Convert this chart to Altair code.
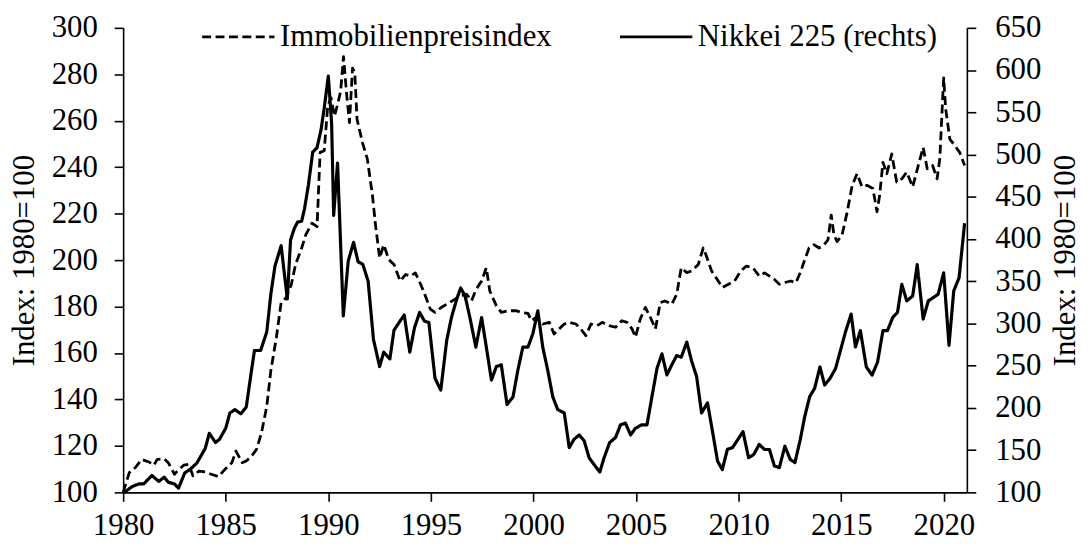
import altair as alt
import pandas as pd

S_PROP = "Immobilienpreisindex"
S_NIK = "Nikkei 225 (rechts)"

prop_year = [1980.0, 1980.3, 1980.6, 1980.9, 1981.26, 1981.5, 1981.66, 1982.0, 1982.2, 1982.5,
             1982.7, 1982.95, 1983.2, 1983.4, 1983.7, 1984.0, 1984.3, 1984.65, 1984.97, 1985.3,
             1985.5, 1985.8, 1986.0, 1986.26, 1986.5, 1986.74, 1987.0, 1987.2, 1987.47, 1987.7,
             1987.95, 1988.2, 1988.4, 1988.7, 1988.9, 1989.2, 1989.45, 1989.6, 1989.8, 1989.97,
             1990.13, 1990.3, 1990.45, 1990.6, 1990.74, 1990.9, 1991.03, 1991.18, 1991.29, 1991.4,
             1991.66, 1991.9, 1992.15, 1992.3, 1992.5, 1992.7, 1992.95, 1993.2, 1993.5, 1993.76,
             1994.0, 1994.24, 1994.5, 1994.7, 1994.97, 1995.2, 1995.5, 1995.9, 1996.4, 1996.74,
             1996.98, 1997.2, 1997.47, 1997.7, 1997.87, 1998.19, 1998.43, 1998.76, 1999.16, 1999.4,
             1999.73, 1999.9, 2000.13, 2000.45, 2000.77, 2001.0, 2001.26, 2001.5, 2001.74, 2002.06,
             2002.3, 2002.55, 2002.8, 2003.1, 2003.35, 2003.68, 2004.0, 2004.3, 2004.56, 2004.8,
             2004.97, 2005.2, 2005.45, 2005.7, 2005.94, 2006.18, 2006.4, 2006.74, 2006.98, 2007.2,
             2007.47, 2007.7, 2008.03, 2008.27, 2008.4, 2008.68, 2008.9, 2009.2, 2009.5, 2009.8,
             2010.1, 2010.37, 2010.7, 2011.0, 2011.26, 2011.5, 2011.74, 2011.98, 2012.22, 2012.54,
             2012.79, 2013.03, 2013.19, 2013.43, 2013.67, 2013.92, 2014.16, 2014.35, 2014.51, 2014.64,
             2014.8, 2015.04, 2015.29, 2015.53, 2015.77, 2016.01, 2016.25, 2016.54, 2016.74, 2016.87,
             2017.03, 2017.22, 2017.46, 2017.7, 2017.95, 2018.19, 2018.48, 2018.75, 2018.99, 2019.19,
             2019.45, 2019.67, 2019.8, 2019.99, 2020.09, 2020.29, 2020.53, 2020.77, 2021.01]
prop_value = [100.0, 108.5, 110.7, 114.2, 113.1, 111.7, 114.2, 114.5, 112.8, 107.8,
              109.7, 111.7, 112.1, 107.1, 109.2, 108.8, 107.8, 106.8, 110.0, 112.8,
              117.8, 112.8, 113.5, 115.6, 118.5, 125.6, 137.0, 152.6, 166.8, 181.7,
              183.9, 189.6, 198.1, 205.2, 210.9, 215.9, 214.4, 246.4, 247.1, 266.3,
              269.9, 262.0, 267.0, 272.7, 287.6, 270.6, 259.2, 282.7, 280.5, 260.6,
              250.7, 243.6, 227.9, 215.1, 200.9, 206.6, 200.2, 198.1, 191.0, 193.8,
              193.1, 194.5, 189.6, 185.3, 178.9, 177.5, 179.6, 181.7, 184.4, 185.3,
              182.5, 187.4, 191.0, 196.7, 186.7, 180.3, 177.5, 178.2, 178.2, 177.5,
              177.1, 173.9, 175.3, 172.5, 173.2, 168.2, 170.4, 172.5, 173.2, 172.5,
              170.4, 167.5, 172.5, 171.8, 173.2, 171.8, 171.1, 173.9, 173.2, 170.4,
              166.8, 174.6, 179.6, 175.3, 170.4, 181.7, 182.4, 181.0, 185.3, 196.7,
              194.6, 195.3, 198.1, 205.2, 202.4, 195.3, 192.4, 188.2, 189.6, 191.0,
              195.3, 197.4, 196.7, 193.1, 194.5, 193.1, 191.7, 189.6, 190.3, 191.0,
              190.3, 195.2, 199.5, 205.2, 206.6, 205.2, 206.6, 208.7, 219.4, 210.9,
              208.0, 210.9, 220.8, 232.2, 237.2, 231.5, 232.2, 230.8, 220.8, 227.9,
              242.1, 237.2, 245.7, 233.6, 235.0, 237.9, 231.5, 240.7, 248.5, 239.3,
              240.7, 235.0, 243.6, 278.4, 264.9, 252.1, 249.3, 246.4, 240.7]

nikkei_year = [1980.05, 1980.45, 1980.77, 1981.0, 1981.4, 1981.74, 1982.0, 1982.2, 1982.5, 1982.7,
               1983.0, 1983.3, 1983.6, 1984.0, 1984.2, 1984.5, 1984.7, 1985.0, 1985.2, 1985.45,
               1985.74, 1986.0, 1986.26, 1986.4, 1986.7, 1987.0, 1987.2, 1987.4, 1987.7, 1988.0,
               1988.16, 1988.35, 1988.5, 1988.7, 1988.84, 1989.03, 1989.24, 1989.45, 1989.65, 1989.8,
               1990.0, 1990.16, 1990.26, 1990.45, 1990.73, 1990.97, 1991.23, 1991.45, 1991.68, 1991.94,
               1992.2, 1992.5, 1992.7, 1993.0, 1993.2, 1993.5, 1993.7, 1993.97, 1994.2, 1994.45,
               1994.68, 1994.9, 1995.2, 1995.48, 1995.77, 1996.0, 1996.26, 1996.45, 1996.66, 1996.9,
               1997.19, 1997.47, 1997.7, 1997.95, 1998.19, 1998.43, 1998.71, 1999.0, 1999.24, 1999.48,
               1999.73, 1999.97, 2000.21, 2000.45, 2000.69, 2000.94, 2001.18, 2001.5, 2001.74, 2001.98,
               2002.23, 2002.47, 2002.71, 2002.95, 2003.23, 2003.44, 2003.71, 2004.0, 2004.24, 2004.48,
               2004.73, 2004.97, 2005.26, 2005.53, 2005.77, 2006.02, 2006.26, 2006.5, 2006.74, 2006.98,
               2007.2, 2007.47, 2007.7, 2007.95, 2008.19, 2008.48, 2008.71, 2008.97, 2009.2, 2009.45,
               2009.7, 2009.97, 2010.21, 2010.48, 2010.74, 2011.0, 2011.26, 2011.5, 2011.74, 2011.98,
               2012.25, 2012.51, 2012.74, 2013.0, 2013.22, 2013.46, 2013.7, 2013.96, 2014.19, 2014.45,
               2014.72, 2014.96, 2015.2, 2015.48, 2015.69, 2015.93, 2016.22, 2016.5, 2016.77, 2017.03,
               2017.25, 2017.51, 2017.74, 2017.95, 2018.19, 2018.48, 2018.7, 2018.99, 2019.24, 2019.48,
               2019.72, 2019.99, 2020.25, 2020.48, 2020.74, 2021.01]
nikkei_value = [100, 107, 110, 110, 120, 113, 118, 112, 110, 105,
                123, 128, 135, 152, 170, 159, 163, 176, 194, 198,
                193, 201, 245, 268, 268, 290, 335, 368, 392, 329,
                399, 413, 420, 421, 436, 464, 503, 508, 530, 555,
                593, 537, 428, 490, 309, 374, 396, 373, 370, 350,
                281, 249, 266, 258, 292, 303, 310, 266, 295, 313,
                303, 301, 235, 221, 280, 307, 329, 342, 333, 307,
                272, 307, 272, 233, 249, 251, 204, 213, 245, 272,
                272, 288, 315, 272, 245, 213, 198, 194, 153, 163,
                168, 161, 141, 133, 124, 141, 159, 165, 180, 182,
                168, 176, 180, 180, 213, 247, 264, 239, 251, 262,
                260, 278, 256, 237, 194, 206, 174, 137, 127, 151,
                153, 163, 172, 141, 145, 156.7, 150.8, 150.8, 131.3, 129.3,
                154.7, 139.1, 135.2, 162.5, 189.9, 213.4, 223.1, 248.5, 227.1, 234.9,
                246.6, 268.1, 289.6, 311.1, 272.1, 291.6, 248.5, 238.8, 254.4, 291.6,
                291.6, 307.2, 313.1, 346.3, 326.7, 332.6, 369.7, 305.2, 326.7, 330.6,
                334.6, 360.0, 274.0, 338.5, 354.1, 418.6]

x_ticks = [1980, 1985, 1990, 1995, 2000, 2005, 2010, 2015, 2020]
left_ticks = list(range(100, 301, 20))
right_ticks = list(range(100, 651, 50))
axis_title = "Index: 1980=100"

df = pd.concat([
    pd.DataFrame({"year": prop_year, "value": prop_value, "series": S_PROP}),
    pd.DataFrame({"year": nikkei_year, "value": nikkei_value, "series": S_NIK}),
], ignore_index=True)

FONT = "Liberation Serif"
FS = 31
W, H = 850, 468

x_enc = alt.X(
    "year:Q",
    scale=alt.Scale(domain=[1980, 2021.12], nice=False, zero=False),
    axis=alt.Axis(values=x_ticks, format="d", title=None, labelPadding=9),
)

dash_enc = alt.StrokeDash(
    "series:N",
    scale=alt.Scale(domain=[S_PROP, S_NIK], range=[[9, 4.5], [1, 0]]),
    legend=alt.Legend(
        title=None, orient="none", legendX=78, legendY=-29, direction="horizontal",
        symbolType="stroke", symbolSize=5300, symbolStrokeWidth=2.8,
        symbolStrokeColor="black", labelFont=FONT, labelFontSize=FS,
        labelColor="black", labelOffset=4, columnPadding=62, labelLimit=500,
    ),
)

base = alt.Chart(df).encode(x=x_enc, strokeDash=dash_enc)

prop = base.transform_filter(alt.datum.series == S_PROP).mark_line(
    color="black", strokeWidth=2.8, strokeJoin="round"
).encode(
    y=alt.Y(
        "value:Q",
        scale=alt.Scale(domain=[100, 300], nice=False, zero=False),
        axis=alt.Axis(values=left_ticks, orient="left", title=axis_title,
                      titleAngle=270, titleX=-99, titleY=H / 2, titleBaseline="middle",
                      titleAlign="center"),
    )
)

nik = base.transform_filter(alt.datum.series == S_NIK).mark_line(
    color="black", strokeWidth=3.2, strokeJoin="round"
).encode(
    y=alt.Y(
        "value:Q",
        scale=alt.Scale(domain=[100, 650], nice=False, zero=False),
        axis=alt.Axis(values=right_ticks, orient="right", title=axis_title,
                      titleAngle=270, titleX=99, titleY=H / 2, titleBaseline="middle",
                      titleAlign="center", labelPadding=19),
    )
)

chart = alt.layer(prop, nik).resolve_scale(y="independent").properties(
    width=W, height=H,
    padding={"left": 116, "top": 18, "right": 117, "bottom": 47},
    autosize=alt.AutoSizeParams(type="none"),
).configure_view(stroke=None).configure_axis(
    domainColor="black", domainWidth=1.6, tickColor="black", tickWidth=1.6, tickSize=9,
    labelFont=FONT, labelFontSize=FS, labelColor="black", labelPadding=17,
    labelFlush=False, labelOverlap=False, grid=False,
    titleFont=FONT, titleFontSize=FS, titleFontWeight="normal", titleColor="black",
).configure_legend(labelFont=FONT)

chart.save("out.html", embed_options={"renderer": "svg", "actions": False})
